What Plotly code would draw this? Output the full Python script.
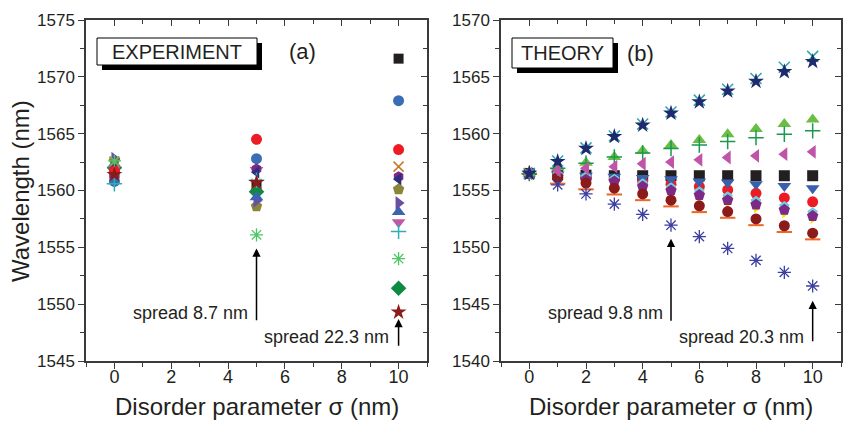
import plotly.graph_objects as go

# ---------------- DATA ----------------
# Experiment (panel a)
exp_sigma = [0, 5, 10]
exp_black_square = [1561.5, 1560.4, 1571.6]
exp_blue_sphere = [1560.8, 1562.8, 1567.9]
exp_red_circle = [1561.7, 1564.5, 1563.6]
exp_orange_x = [1562.5, 1560.6, 1562.1]
exp_purple_hex = [1561.2, 1561.9, 1561.2]
exp_navy_left = [1562.0, 1561.6, 1561.0]
exp_olive_pent = [1562.6, 1558.6, 1560.1]
exp_purple_right = [1562.8, 1559.1, 1558.9]
exp_blue_up = [1562.3, 1559.4, 1558.1]
exp_magenta_down = [1561.9, 1561.8, 1557.2]
exp_cyan_plus = [1560.6, 1560.9, 1556.4]
exp_green_ast = [1562.6, 1556.1, 1554.0]
exp_green_diamond = [1562.0, 1559.9, 1551.4]
exp_red_star = [1561.4, 1560.7, 1549.3]

# Theory (panel b)
th_sigma = [0, 1, 2, 3, 4, 5, 6, 7, 8, 9, 10]
th_black_square = [1556.5, 1556.4, 1556.35, 1556.3, 1556.3, 1556.3, 1556.3, 1556.3, 1556.3, 1556.3, 1556.3]
th_red_circle = [1556.5, 1556.3, 1556.1, 1556.0, 1555.8, 1555.55, 1555.35, 1555.05, 1554.75, 1554.35, 1554.0]
th_blue_down = [1556.5, 1556.4, 1556.3, 1556.2, 1556.1, 1556.0, 1555.8, 1555.7, 1555.55, 1555.4, 1555.2]
th_cyan_pent = [1556.5, 1556.4, 1556.2, 1556.0, 1555.6, 1555.25, 1554.9, 1554.45, 1554.05, 1553.6, 1553.05]
th_yellow_right = [1556.5, 1556.0, 1555.75, 1555.5, 1555.1, 1554.7, 1554.3, 1553.85, 1553.4, 1552.95, 1552.45]
th_purple_pent = [1556.5, 1556.2, 1555.95, 1555.8, 1555.35, 1555.0, 1554.6, 1554.15, 1553.75, 1553.3, 1552.75]
th_orange_dash = [1556.45, 1555.6, 1555.1, 1554.65, 1554.15, 1553.6, 1553.1, 1552.6, 1551.95, 1551.35, 1550.7]
th_darkred_sphere = [1556.5, 1556.15, 1555.65, 1555.2, 1554.7, 1554.15, 1553.65, 1553.15, 1552.5, 1551.9, 1551.25]
th_navy_ast = [1556.45, 1555.5, 1554.7, 1553.8, 1552.9, 1551.95, 1550.95, 1549.9, 1548.85, 1547.8, 1546.6]
th_green_up = [1556.5, 1557.05, 1557.45, 1557.95, 1558.5, 1559.0, 1559.45, 1559.95, 1560.4, 1560.85, 1561.25]
th_green_plus = [1556.5, 1556.95, 1557.4, 1557.95, 1558.3, 1558.7, 1559.0, 1559.3, 1559.65, 1559.95, 1560.25]
th_magenta_left = [1556.5, 1556.75, 1556.95, 1557.1, 1557.35, 1557.5, 1557.7, 1557.9, 1558.05, 1558.2, 1558.4]
th_cyan_x = [1556.5, 1557.6, 1558.75, 1559.8, 1560.85, 1561.9, 1562.95, 1563.9, 1564.85, 1565.85, 1566.8]
th_navy_star = [1556.5, 1557.55, 1558.7, 1559.75, 1560.75, 1561.8, 1562.8, 1563.75, 1564.6, 1565.45, 1566.35]

# Annotations
spread_labels = ["spread 8.7 nm", "spread 22.3 nm", "spread 9.8 nm", "spread 20.3 nm"]
panel_labels = ["EXPERIMENT", "(a)", "THEORY", "(b)"]
x_title = "Disorder parameter σ (nm)"
y_title = "Wavelength (nm)"

# ---------------- FIGURE ----------------
W, H = 843, 425
FONT = "Liberation Sans, Arial, sans-serif"
AX = "#3a3a3a"
TXT = "#231f20"

fig = go.Figure()


def add(x, y, symbol, color, size=11, xa="x", ya="y", line=None):
    mk = dict(symbol=symbol, color=color, size=size, line=dict(width=0))
    if line is not None:
        mk["line"] = dict(width=line, color=color)
    fig.add_trace(go.Scatter(x=x, y=y, mode="markers", marker=mk,
                             xaxis=xa, yaxis=ya, showlegend=False, hoverinfo="skip"))


# Panel (a)
add(exp_sigma, exp_black_square, "square", "#231f20", 10)
add(exp_sigma, exp_green_diamond, "diamond", "#0f8a44", 12)
add(exp_sigma, exp_olive_pent, "pentagon", "#8a8638", 12)
add(exp_sigma, exp_purple_right, "triangle-right", "#6b4fa3", 12)
add(exp_sigma, exp_blue_up, "triangle-up", "#3c62b0", 12)
add(exp_sigma, exp_magenta_down, "triangle-down", "#c456a8", 12)
add(exp_sigma, exp_purple_hex, "hexagon", "#7d2a86", 11)
add(exp_sigma, exp_navy_left, "triangle-left", "#2b2f80", 11)
add(exp_sigma, exp_red_circle, "circle", "#ed1c24", 11)
add(exp_sigma, exp_blue_sphere, "circle", "#3a6db4", 11)
add(exp_sigma, exp_orange_x, "x-thin", "#c8782a", 10, line=1.5)
add(exp_sigma, exp_cyan_plus, "cross-thin", "#29b0b5", 11, line=1.5)
add(exp_sigma, exp_green_ast, "asterisk", "#4cc764", 11, line=1.3)
add(exp_sigma, exp_red_star, "star", "#8b1a1a", 12)

# Panel (b)
xb, yb = "x2", "y2"
add(th_sigma, th_black_square, "square", "#231f20", 11, xb, yb)
add(th_sigma, th_red_circle, "circle", "#ed1c24", 11, xb, yb)
add(th_sigma, th_blue_down, "triangle-down", "#3a5fad", 12, xb, yb)
add(th_sigma, th_cyan_pent, "pentagon", "#6fcde0", 11, xb, yb)
add(th_sigma, th_yellow_right, "triangle-right", "#f2e600", 8, xb, yb)
add(th_sigma, th_purple_pent, "pentagon", "#7d2a86", 12, xb, yb)
add(th_sigma, th_orange_dash, "line-ew", "#f26522", 11, xb, yb, line=2)
add(th_sigma, th_darkred_sphere, "circle", "#8b1a1a", 11, xb, yb)
add(th_sigma, th_navy_ast, "asterisk", "#3b3f9e", 11, xb, yb, line=1.3)
add(th_sigma, th_green_up, "triangle-up", "#6abd45", 12, xb, yb)
add(th_sigma, th_green_plus, "cross-thin", "#1a9850", 11, xb, yb, line=1.5)
add(th_sigma, th_magenta_left, "triangle-left", "#c055a8", 12, xb, yb)
add(th_sigma, th_cyan_x, "x-thin", "#2aa8a8", 11, xb, yb, line=1.5)
add(th_sigma, th_navy_star, "star", "#1f2a6e", 12, xb, yb)

# ---------------- AXES ----------------
px_l0, px_l1 = 86, 427
px_r0, px_r1 = 501, 841
py_top, py_bot = 20, 361
dom_a = [px_l0 / W, px_l1 / W]
dom_b = [px_r0 / W, px_r1 / W]
dom_y = [1 - py_bot / H, 1 - py_top / H]

tickfont = dict(family=FONT, size=17, color=TXT)


def xax(domain, anchor, **kw):
    d = dict(domain=domain, anchor=anchor, range=[-1, 11], tick0=0, dtick=2,
             ticks="outside", ticklen=6, tickwidth=1.3, tickcolor=AX,
             minor=dict(ticks="outside", ticklen=4, dtick=1, tickwidth=1.3, tickcolor=AX),
             showline=True, linecolor=AX, linewidth=1.5, showgrid=False, zeroline=False,
             tickfont=dict(family=FONT, size=18, color=TXT), automargin=False,
             ticklabelstandoff=-7)
    d.update(kw)
    return d


def yax(domain, anchor, rng, **kw):
    d = dict(domain=domain, anchor=anchor, range=rng, tick0=1500, dtick=5,
             ticks="outside", ticklen=6, tickwidth=1.3, tickcolor=AX,
             minor=dict(ticks="outside", ticklen=4, dtick=2.5, tickwidth=1.3, tickcolor=AX),
             showline=True, linecolor=AX, linewidth=1.5, showgrid=False, zeroline=False,
             tickfont=tickfont, automargin=False)
    d.update(kw)
    return d


fig.update_layout(
    xaxis=xax(dom_a, "y"),
    yaxis=yax(dom_y, "x", [1545, 1575]),
    xaxis2=xax(dom_b, "y2"),
    yaxis2=yax(dom_y, "x2", [1540, 1570]),
    xaxis3=xax(dom_a, "y", overlaying="x", side="top", ticks="inside", showticklabels=False,
               minor=dict(ticks="inside", ticklen=4, dtick=1, tickwidth=1.3, tickcolor=AX)),
    yaxis3=yax(dom_y, "x", [1545, 1575], overlaying="y", side="right", ticks="inside",
               showticklabels=False,
               minor=dict(ticks="inside", ticklen=4, dtick=2.5, tickwidth=1.3, tickcolor=AX)),
    xaxis4=xax(dom_b, "y2", overlaying="x2", side="top", ticks="inside", showticklabels=False,
               minor=dict(ticks="inside", ticklen=4, dtick=1, tickwidth=1.3, tickcolor=AX)),
    yaxis4=yax(dom_y, "x2", [1540, 1570], overlaying="y2", side="right", ticks="inside",
               showticklabels=False,
               minor=dict(ticks="inside", ticklen=4, dtick=2.5, tickwidth=1.3, tickcolor=AX)),
)

# dummy invisible traces so overlay axes render
fig.add_trace(go.Scatter(x=[None], y=[None], xaxis="x3", yaxis="y3", showlegend=False))
fig.add_trace(go.Scatter(x=[None], y=[None], xaxis="x4", yaxis="y4", showlegend=False))

# ---------------- BOXES ----------------
shapes = []


def box(x0, y0, x1, y1, shadow=5):
    shapes.append(dict(type="rect", xref="paper", yref="paper",
                       x0=(x0 + shadow) / W, x1=(x1 + shadow) / W,
                       y0=1 - (y1 + shadow) / H, y1=1 - (y0 + shadow) / H,
                       fillcolor="black", line=dict(width=0)))
    shapes.append(dict(type="rect", xref="paper", yref="paper",
                       x0=x0 / W, x1=x1 / W, y0=1 - y1 / H, y1=1 - y0 / H,
                       fillcolor="white", line=dict(width=1, color="black")))


box(97, 38, 257, 65)
box(512, 38, 613, 68)

ann = []


def ptext(text, x, y, size, anchor="center"):
    ann.append(dict(text=text, xref="paper", yref="paper", x=x / W, y=1 - y / H,
                    xanchor=anchor, yanchor="middle", showarrow=False,
                    font=dict(family=FONT, size=size, color=TXT)))


ptext(panel_labels[0], 177, 52, 20)
ptext(panel_labels[1], 302, 52, 22)
ptext(panel_labels[2], 562.5, 53, 20)
ptext(panel_labels[3], 640, 53, 22)

# axis titles
ptext(x_title, (px_l0 + px_l1) / 2, 406, 24)
ptext(x_title, (px_r0 + px_r1) / 2, 406, 24)
ann.append(dict(text=y_title, xref="paper", yref="paper", x=20 / W, y=1 - 191 / H,
                textangle=-90, showarrow=False, xanchor="center", yanchor="middle",
                font=dict(family=FONT, size=24, color=TXT)))


# spread texts (data coords)
def dtext(text, x, y, xr, yr):
    ann.append(dict(text=text, x=x, y=y, xref=xr, yref=yr, xanchor="right",
                    yanchor="middle", showarrow=False,
                    font=dict(family=FONT, size=18, color=TXT)))


dtext(spread_labels[0], 4.78, 1549.2, "x", "y")
dtext(spread_labels[1], 9.75, 1547.15, "x", "y")
dtext(spread_labels[2], 4.78, 1544.2, "x2", "y2")
dtext(spread_labels[3], 9.78, 1542.1, "x2", "y2")


def arrow(x, ytip, ytail, xr, yr):
    ann.append(dict(text="", x=x, y=ytip, ax=x, ay=ytail, xref=xr, yref=yr,
                    axref=xr, ayref=yr, showarrow=True, arrowhead=2, arrowsize=1.1,
                    arrowwidth=1.5, arrowcolor="black", standoff=0))


arrow(5, 1554.9, 1548.45, "x", "y")
arrow(10, 1548.7, 1546.2, "x", "y")
arrow(5, 1550.75, 1543.4, "x2", "y2")
arrow(10, 1545.3, 1541.6, "x2", "y2")

fig.update_layout(
    width=W, height=H, margin=dict(l=0, r=0, t=0, b=0),
    paper_bgcolor="white", plot_bgcolor="white",
    shapes=shapes, annotations=ann, showlegend=False,
    template="none",
)

fig.write_html("out.html")
